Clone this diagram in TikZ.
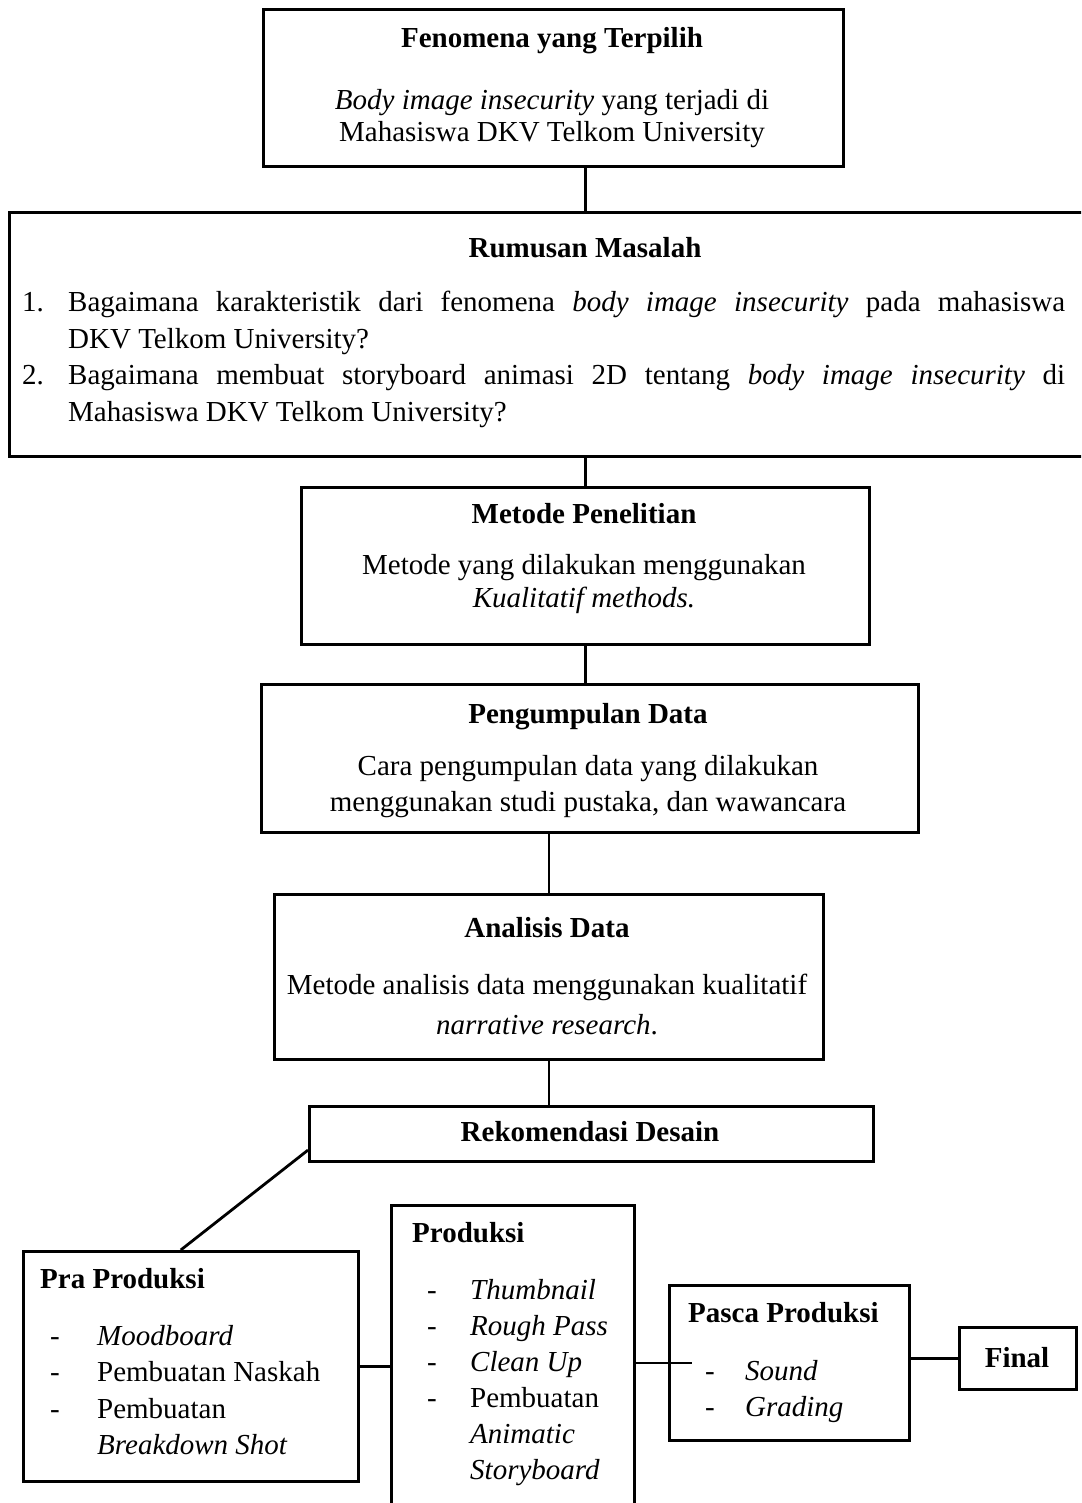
\documentclass[tikz,border=0pt]{standalone}
\usepackage{fontspec}
\setmainfont{Liberation Serif}
\usetikzlibrary{calc}
\begin{document}
\begin{tikzpicture}[x=1pt,y=-1pt,
  box/.style={draw, line width=2.8pt, rectangle, inner sep=0pt, anchor=north west},
  conn/.style={line width=2.8pt},
  txt/.style={inner sep=0pt, anchor=base, font=\fontsize{29}{33}\selectfont},
  ttl/.style={txt, font=\fontsize{29}{33}\selectfont\bfseries},
  lst/.style={inner sep=0pt, anchor=base west, font=\fontsize{29}{36.5}\selectfont}]
\useasboundingbox (0,0) rectangle (1081,1503);
\clip (0,0) rectangle (1081,1503);
% boxes
\node[box, minimum width=580pt, minimum height=157pt] (fen) at (262,8) {};
\node[box, minimum width=1090pt, minimum height=244pt] (rum) at (8,211) {};
\node[box, minimum width=568pt, minimum height=157pt] (met) at (300,486) {};
\node[box, minimum width=657pt, minimum height=148pt] (peng) at (260,683) {};
\node[box, minimum width=549pt, minimum height=165pt] (ana) at (273,893) {};
\node[box, minimum width=564pt, minimum height=55pt] (rek) at (308,1105) {};
\node[box, minimum width=335pt, minimum height=230pt] (pra) at (22,1250) {};
\node[box, minimum width=243pt, minimum height=320pt] (prod) at (390,1204) {};
\node[box, minimum width=240pt, minimum height=155pt] (pasca) at (668,1284) {};
\node[box, minimum width=117pt, minimum height=62pt] (fin) at (958,1326) {};
% texts
\node[ttl] (fenT) at (552,48) {Fenomena yang Terpilih};
\node[txt] (fenA) at (552,110) {\textit{Body image insecurity} yang terjadi di};
\node[txt] (fenB) at (552,142) {Mahasiswa DKV Telkom University};
\node[ttl] (rumT) at (585,258) {Rumusan Masalah};
\node[inner sep=0pt, anchor=base west] (rumL) at (22,312) {\parbox[t]{1043pt}{\fontsize{29}{36.5}\selectfont
\hangindent=46pt\hangafter=1\noindent\makebox[46pt][l]{1.}Bagaimana karakteristik dari fenomena \textit{body image insecurity} pada mahasiswa\linebreak DKV Telkom University?\par
\hangindent=46pt\hangafter=1\noindent\makebox[46pt][l]{2.}Bagaimana membuat storyboard animasi 2D tentang \textit{body image insecurity} di\linebreak Mahasiswa DKV Telkom University?}};
\node[ttl] (metT) at (584,523) {Metode Penelitian};
\node[txt] (metA) at (584,574) {Metode yang dilakukan menggunakan};
\node[txt] (metB) at (584,607) {\textit{Kualitatif methods.}};
\node[ttl] (pengT) at (588,723) {Pengumpulan Data};
\node[txt] (pengA) at (588,775) {Cara pengumpulan data yang dilakukan};
\node[txt] (pengB) at (588,811) {menggunakan studi pustaka, dan wawancara};
\node[ttl] (anaT) at (547,937) {Analisis Data};
\node[txt] (anaA) at (547,994) {Metode analisis data menggunakan kualitatif};
\node[txt] (anaB) at (547,1034) {\textit{narrative research}.};
\node[ttl] (rekT) at (590,1141) {Rekomendasi Desain};
\node[ttl, anchor=base west] (praT) at (40,1288) {Pra Produksi};
\node[lst] (praL) at (50,1345) {\parbox[t]{300pt}{\fontsize{29}{36.5}\selectfont
\makebox[47pt][l]{-}\textit{Moodboard}\\
\makebox[47pt][l]{-}Pembuatan Naskah\\
\makebox[47pt][l]{-}Pembuatan\\
\hspace*{47pt}\textit{Breakdown Shot}}};
\node[ttl, anchor=base west] (prodT) at (412,1242) {Produksi};
\node[lst] (prodL) at (427,1299) {\parbox[t]{200pt}{\fontsize{29}{36}\selectfont
\makebox[43pt][l]{-}\textit{Thumbnail}\\
\makebox[43pt][l]{-}\textit{Rough Pass}\\
\makebox[43pt][l]{-}\textit{Clean Up}\\
\makebox[43pt][l]{-}Pembuatan\\
\hspace*{43pt}\textit{Animatic}\\
\hspace*{43pt}\textit{Storyboard}}};
\node[ttl, anchor=base west] (pascaT) at (688,1322) {Pasca Produksi};
\node[lst] (pascaL) at (705,1380) {\parbox[t]{200pt}{\fontsize{29}{36}\selectfont
\makebox[40pt][l]{-}\textit{Sound}\\
\makebox[40pt][l]{-}\textit{Grading}}};
\node[ttl] (finT) at (1017,1367) {Final};
% connectors
\draw[conn] (fen.south -| met.north) -- (rum.north -| met.north);
\draw[conn] (rum.south -| met.north) -- (met.north);
\draw[conn] (met.south) -- (peng.north -| met.south);
\draw[conn] (peng.south -| ana.north) -- (ana.north);
\draw[conn] (ana.south) -- (rek.north -| ana.south);
\draw[conn] ($(rek.south west)!0.22!(rek.north west)$) -- ($(pra.north west)!0.47!(pra.north east)$);
\draw[conn] (pra.east) -- (pra.east -| prod.west);
\draw[conn] (pasca.west -| prod.east) -- ([xshift=24pt]pasca.west);
\draw[conn] (fin.west -| pasca.east) -- (fin.west);
\end{tikzpicture}
\end{document}
